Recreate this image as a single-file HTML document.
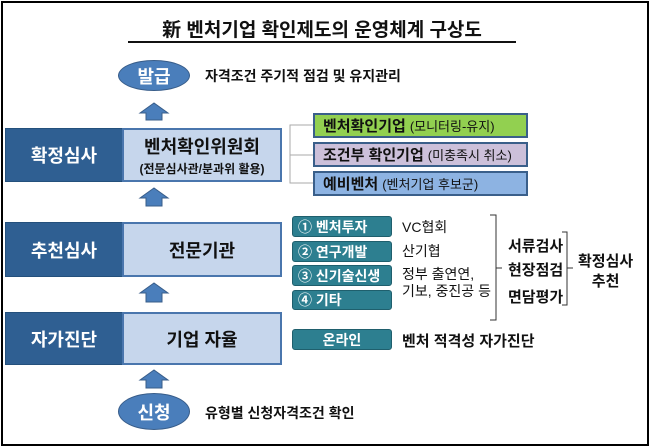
<!DOCTYPE html>
<html><head><meta charset="utf-8"><style>
*{margin:0;padding:0;box-sizing:border-box}
body{width:650px;height:447px;background:#fff;position:relative;overflow:hidden;font-family:"Liberation Sans","Noto Sans CJK KR",sans-serif}
.a{position:absolute}
.frame{left:1px;top:1px;width:648px;height:445px;border:2px solid #000}
.dk{background:#2f5f92;color:#fff;font-weight:bold;font-size:18px;display:flex;align-items:center;justify-content:center;border:1px solid #24507c}
.lt{background:#c6d6ec;border:2px solid #4a76ad;font-weight:bold;font-size:18px;display:flex;flex-direction:column;align-items:center;justify-content:center;color:#111}
.tl{background:#2d7f90;color:#fff;font-weight:bold;font-size:14px;border-radius:3px;display:flex;align-items:center;padding-left:5px;border:1px solid #1f5f6d;white-space:nowrap}
.ell{background:#4a7ebb;border:1px solid #385d8a;border-radius:50%;color:#fff;font-weight:bold;font-size:18px;display:flex;align-items:center;justify-content:center}
.rb{border:2px solid #3a5f8a;font-size:15px;font-weight:bold;display:flex;align-items:center;padding-left:8px;color:#111}
.rb span{font-weight:normal;font-size:13px;margin-left:4px}
.t{font-size:14px;color:#111;white-space:nowrap}
.b{font-weight:bold}
</style></head><body>
<div class="a frame"></div>
<div class="a b" style="left:128px;top:15px;width:388px;text-align:center;font-size:19px;color:#111">新 벤처기업 확인제도의 운영체계 구상도</div>
<div class="a" style="left:128px;top:41px;width:388px;height:2px;background:#111"></div>

<div class="a ell" style="left:118px;top:60px;width:72px;height:31px">발급</div>
<div class="a t b" style="left:205px;top:66px">자격조건 주기적 점검 및 유지관리</div>

<svg class="a" style="left:0;top:0" width="650" height="447">
<g fill="#4a7ebb" stroke="#385d8a" stroke-width="1">
<polygon points="140,113 154,103 168,113 162,113 162,120 146,120 146,113"/>
<polygon points="140,198 154,188 168,198 162,198 162,206 146,206 146,198"/>
<polygon points="140,293 154,283 168,293 162,293 162,302 146,302 146,293"/>
<polygon points="140,380 154,370 168,380 162,380 162,388 146,388 146,380"/>
</g>
<g stroke="#aaa" stroke-width="1" fill="none">
<path d="M313,125 H290 V183 H313 M290,155 H313"/>
</g>
<g stroke="#333" stroke-width="1" fill="none">
<path d="M490,215 H496 V320 H490 M496,268 H502"/>
<path d="M562,232 H567 V305 H562 M567,268 H573"/>
</g>
</svg>

<div class="a dk" style="left:5px;top:128px;width:118px;height:54px">확정심사</div>
<div class="a lt" style="left:122px;top:128px;width:160px;height:54px"><div>벤처확인위원회</div><div style="font-size:12px;margin-top:1px">(전문심사관/분과위 활용)</div></div>

<div class="a rb" style="left:313px;top:113px;width:215px;height:25px;background:#92d050">벤처확인기업<span>(모니터링-유지)</span></div>
<div class="a rb" style="left:313px;top:142px;width:215px;height:25px;background:#ccc0da">조건부 확인기업<span>(미충족시 취소)</span></div>
<div class="a rb" style="left:313px;top:171px;width:215px;height:25px;background:#8db3e2">예비벤처<span>(벤처기업 후보군)</span></div>

<div class="a dk" style="left:5px;top:222px;width:118px;height:55px">추천심사</div>
<div class="a lt" style="left:122px;top:222px;width:160px;height:55px">전문기관</div>

<div class="a tl" style="left:292px;top:216px;width:100px;height:21px">① 벤처투자</div>
<div class="a tl" style="left:292px;top:241px;width:100px;height:21px">② 연구개발</div>
<div class="a tl" style="left:292px;top:265px;width:100px;height:21px">③ 신기술신생</div>
<div class="a tl" style="left:292px;top:290px;width:100px;height:20px">④ 기타</div>

<div class="a t" style="left:402px;top:217px">VC협회</div>
<div class="a t" style="left:402px;top:241px">산기협</div>
<div class="a t" style="left:402px;top:264px">정부 출연연,</div>
<div class="a t" style="left:402px;top:281px">기보, 중진공 등</div>

<div class="a t b" style="left:508px;top:235px;font-size:15px">서류검사</div>
<div class="a t b" style="left:508px;top:259px;font-size:15px">현장점검</div>
<div class="a t b" style="left:508px;top:286px;font-size:15px">면담평가</div>
<div class="a t b" style="left:578px;top:252px;font-size:15px;text-align:center;line-height:20px">확정심사<br>추천</div>

<div class="a dk" style="left:5px;top:312px;width:118px;height:53px">자가진단</div>
<div class="a lt" style="left:122px;top:312px;width:160px;height:53px">기업 자율</div>

<div class="a tl" style="left:292px;top:329px;width:100px;height:21px;justify-content:center;padding-left:0">온라인</div>
<div class="a t b" style="left:402px;top:330px;font-size:15px">벤처 적격성 자가진단</div>

<div class="a ell" style="left:118px;top:393px;width:72px;height:37px">신청</div>
<div class="a t b" style="left:205px;top:403px">유형별 신청자격조건 확인</div>
</body></html>
